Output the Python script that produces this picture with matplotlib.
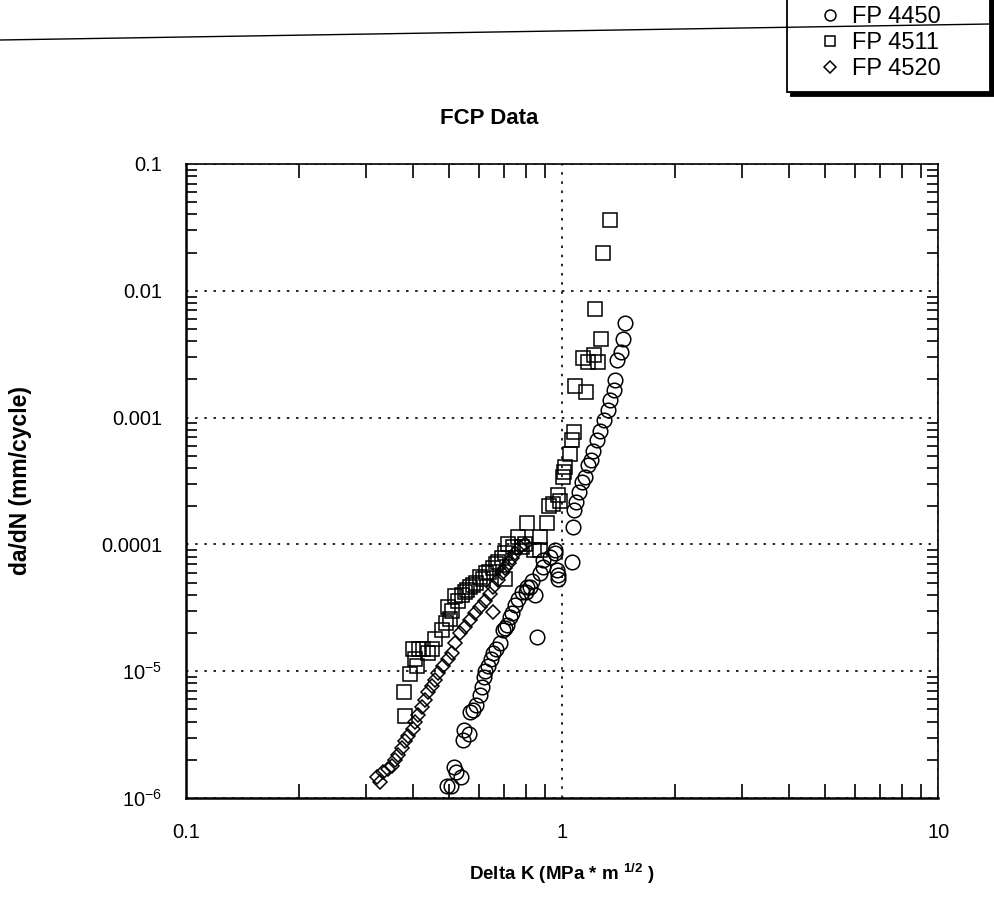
import numpy as np
import matplotlib.pyplot as plt
from matplotlib.lines import Line2D
from matplotlib.ticker import LogLocator, NullFormatter, FixedLocator, FixedFormatter

plt.rcParams['font.family'] = ['Liberation Sans', 'DejaVu Sans']
plt.rcParams['mathtext.fontset'] = 'custom'
plt.rcParams['mathtext.rm'] = 'Liberation Sans'
plt.rcParams['mathtext.bf'] = 'Liberation Sans:bold'

# FP 4450 (circles): Delta K, da/dN
dk_4450 = [0.494, 0.507, 0.516, 0.522, 0.539, 0.545, 0.549, 0.566, 0.569, 0.58,
           0.59, 0.605, 0.612, 0.62, 0.624, 0.635, 0.645, 0.655, 0.667, 0.684,
           0.697, 0.705, 0.714, 0.727, 0.736, 0.75, 0.764, 0.783, 0.80, 0.807,
           0.82, 0.832, 0.848, 0.858, 0.874, 0.89, 0.89, 0.93, 0.958, 0.958,
           0.97, 0.976, 0.976, 1.063, 1.07, 1.076, 1.09, 1.11, 1.13, 1.15,
           1.17, 1.19, 1.21, 1.24, 1.26, 1.29, 1.32, 1.34, 1.37, 1.38,
           1.40, 1.43, 1.45, 1.47]
dadn_4450 = [1.24e-6, 1.24e-6, 1.75e-6, 1.6e-6, 1.47e-6, 2.86e-6, 3.43e-6, 3.2e-6, 4.76e-6, 4.9e-6,
             5.4e-6, 6.5e-6, 7.5e-6, 9.0e-6, 1.0e-5, 1.1e-5, 1.25e-5, 1.39e-5, 1.5e-5, 1.67e-5,
             2.11e-5, 2.2e-5, 2.3e-5, 2.68e-5, 2.9e-5, 3.3e-5, 3.7e-5, 4.2e-5, 4.2e-5, 4.6e-5,
             4.6e-5, 5.1e-5, 4.0e-5, 1.86e-5, 6.0e-5, 6.6e-5, 7.5e-5, 8.0e-5, 8.5e-5, 9.0e-5,
             6.3e-5, 5.75e-5, 5.3e-5, 7.3e-5, 1.37e-4, 1.87e-4, 2.15e-4, 2.6e-4, 3.1e-4, 3.4e-4,
             4.2e-4, 4.6e-4, 5.5e-4, 6.6e-4, 7.9e-4, 9.5e-4, 1.15e-3, 1.37e-3, 1.65e-3, 1.98e-3,
             2.85e-3, 3.3e-3, 4.2e-3, 5.6e-3]

# FP 4511 (squares)
dk_4511 = [0.38, 0.382, 0.395, 0.40, 0.405, 0.41, 0.415, 0.427, 0.44, 0.45,
           0.46, 0.48, 0.49, 0.497, 0.504, 0.51, 0.52, 0.53, 0.542, 0.55,
           0.56, 0.57, 0.58, 0.59, 0.605, 0.615, 0.628, 0.64, 0.655, 0.665,
           0.675, 0.69, 0.705, 0.705, 0.718, 0.74, 0.764, 0.78, 0.797, 0.807,
           0.84, 0.874, 0.874, 0.912, 0.924, 0.946, 0.976, 0.985, 1.006, 1.012,
           1.02, 1.05, 1.063, 1.076, 1.083, 1.137, 1.158, 1.17, 1.216, 1.224,
           1.247, 1.27, 1.285, 1.342]
dadn_4511 = [6.8e-6, 4.4e-6, 9.5e-6, 1.5e-5, 1.25e-5, 1.1e-5, 1.5e-5, 1.5e-5, 1.4e-5, 1.5e-5,
             1.8e-5, 2.1e-5, 2.4e-5, 3.2e-5, 2.6e-5, 3.0e-5, 3.9e-5, 3.6e-5, 4.0e-5, 4.2e-5,
             4.4e-5, 4.6e-5, 4.8e-5, 5.0e-5, 5.5e-5, 5.3e-5, 5.9e-5, 6.1e-5, 6.5e-5, 7.0e-5,
             7.3e-5, 7.8e-5, 8.6e-5, 5.3e-5, 1.0e-4, 9.5e-5, 1.15e-4, 9.5e-5, 1.0e-4, 1.48e-4,
             9.0e-5, 1.15e-4, 9.1e-5, 1.48e-4, 2.0e-4, 2.1e-4, 2.45e-4, 2.2e-4, 3.4e-4, 3.7e-4,
             4.1e-4, 5.2e-4, 6.7e-4, 7.7e-4, 1.78e-3, 2.95e-3, 1.6e-3, 2.75e-3, 3.1e-3, 7.2e-3,
             2.75e-3, 4.2e-3, 0.0199, 0.0361]

# FP 4520 (diamonds)
dk_4520 = [0.322, 0.328, 0.334, 0.345, 0.353, 0.36, 0.366, 0.375, 0.382, 0.39,
           0.40, 0.407, 0.414, 0.424, 0.432, 0.44, 0.45, 0.46, 0.468, 0.482,
           0.497, 0.51, 0.52, 0.536, 0.552, 0.569, 0.587, 0.605, 0.624, 0.643,
           0.655, 0.655, 0.675, 0.69, 0.705, 0.72, 0.736, 0.75, 0.773, 0.797]
dadn_4520 = [1.47e-6, 1.34e-6, 1.6e-6, 1.7e-6, 1.8e-6, 2.0e-6, 2.2e-6, 2.5e-6, 2.8e-6, 3.1e-6,
             3.5e-6, 4.0e-6, 4.5e-6, 5.2e-6, 5.9e-6, 6.8e-6, 7.6e-6, 8.6e-6, 9.7e-6, 1.1e-5,
             1.25e-5, 1.4e-5, 1.67e-5, 2.0e-5, 2.25e-5, 2.55e-5, 2.9e-5, 3.2e-5, 3.6e-5, 4.1e-5,
             2.95e-5, 4.6e-5, 5.2e-5, 5.9e-5, 6.5e-5, 7.1e-5, 7.8e-5, 8.6e-5, 9.5e-5, 1.0e-4]

y_ticks = [1e-6, 1e-5, 1e-4, 1e-3, 1e-2, 1e-1]
y_labels = ['10$^{-6}$', '10$^{-5}$', '0.0001', '0.001', '0.01', '0.1']
x_ticks = [0.1, 1, 10]
x_labels = ['0.1', '1', '10']

fig = plt.figure(figsize=(9.95, 9.01), dpi=100)
ax = fig.add_axes([0.187, 0.1143, 0.756, 0.7037])

ax.set_xscale('log')
ax.set_yscale('log')
ax.set_xlim(0.1, 10)
ax.set_ylim(1e-6, 0.1)

ax.plot(dk_4450, dadn_4450, 'o', ms=10.5, mfc='none', mec='black', mew=1.1, label='FP 4450')
ax.plot(dk_4511, dadn_4511, 's', ms=10, mfc='none', mec='black', mew=1.1, label='FP 4511')
ax.plot(dk_4520, dadn_4520, 'D', ms=7.5, mfc='none', mec='black', mew=1.1, label='FP 4520')

ax.xaxis.set_major_locator(FixedLocator(x_ticks))
ax.xaxis.set_major_formatter(FixedFormatter(x_labels))
ax.yaxis.set_major_locator(FixedLocator(y_ticks))
ax.yaxis.set_major_formatter(FixedFormatter(y_labels))
ax.xaxis.set_minor_locator(LogLocator(base=10, subs=np.arange(2, 10)))
ax.yaxis.set_minor_locator(LogLocator(base=10, subs=np.arange(2, 10)))
ax.xaxis.set_minor_formatter(NullFormatter())
ax.yaxis.set_minor_formatter(NullFormatter())

ax.tick_params(which='both', direction='in', top=True, right=True, color='black')
ax.tick_params(which='major', length=0, labelsize=14.5)
ax.tick_params(axis='y', which='major', pad=17)
ax.tick_params(axis='x', which='major', pad=18)
ax.tick_params(axis='y', which='minor', length=8, width=1.2)
ax.tick_params(axis='x', which='minor', length=10, width=1.2)

ax.grid(True, which='major', linestyle=(0, (1.5, 4)), color='black', linewidth=1.2)

for side in ['left', 'bottom']:
    ax.spines[side].set_linewidth(1.8)
for side in ['top', 'right']:
    ax.spines[side].set_linewidth(1.2)

ax.set_xlabel('Delta K (MPa * m $^{\\mathbf{1/2}}$ )', fontsize=13.5, fontweight='bold', labelpad=14)
ax.set_ylabel('da/dN (mm/cycle)', fontsize=16.5, fontweight='bold')
ax.yaxis.set_label_coords(-0.205, 0.5)
fig.text(0.492, 0.868, 'FCP Data', fontsize=16, fontweight='bold', ha='center', va='center')

leg = fig.legend(loc='upper left', bbox_to_anchor=(787 / 995, 1 - 88 / 901, 203 / 995, 94 / 901),
                 mode='expand', borderaxespad=0, fontsize=17,
                 frameon=True, fancybox=False, edgecolor='black', borderpad=0.5,
                 labelspacing=0.18, handletextpad=-0.38, handlelength=2.63,
                 shadow={'color': 'black', 'alpha': 1, 'ox': 3, 'oy': -3},
                 markerscale=0.75)
leg.get_frame().set_linewidth(1.3)

# horizontal rule across the top of the page
fig.add_artist(Line2D([0.0, 0.995], [1 - 40 / 901, 1 - 24 / 901], color='black',
                      linewidth=1.0, zorder=10))

fig.savefig('out.png', dpi=100)
